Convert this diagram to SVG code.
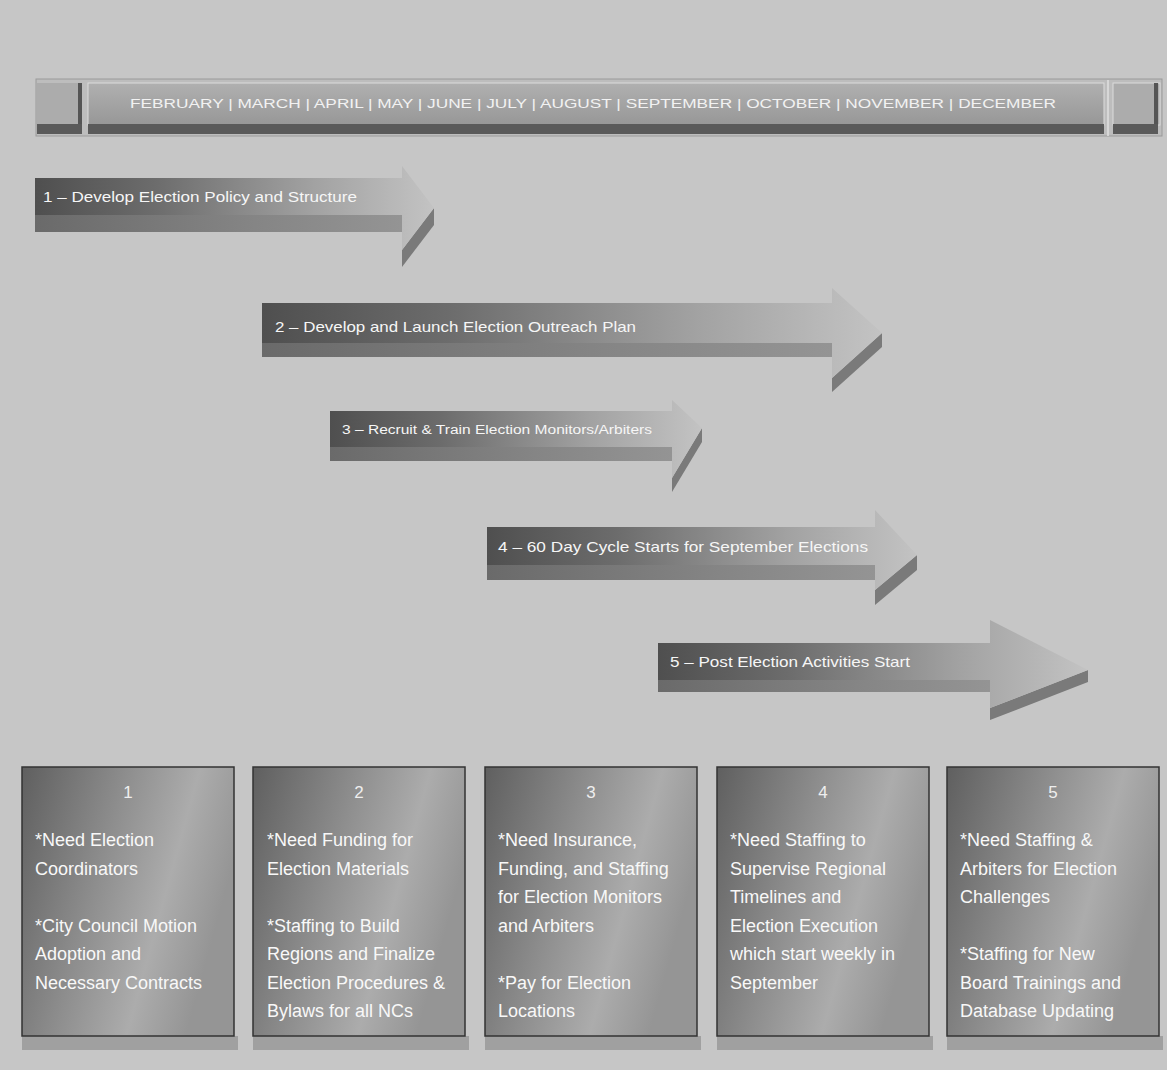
<svg xmlns="http://www.w3.org/2000/svg" width="1167" height="1070" viewBox="0 0 1167 1070">
  <defs>
    <linearGradient id="front" x1="0" y1="0" x2="1" y2="0">
      <stop offset="0" stop-color="#4f4f4f"/>
      <stop offset="0.3" stop-color="#6c6c6c"/>
      <stop offset="0.7" stop-color="#a2a2a2"/>
      <stop offset="1" stop-color="#c3c3c3"/>
    </linearGradient>
    <linearGradient id="side" x1="0" y1="0" x2="1" y2="0">
      <stop offset="0" stop-color="#6a6a6a"/>
      <stop offset="0.6" stop-color="#858585"/>
      <stop offset="1" stop-color="#949494"/>
    </linearGradient>
    <linearGradient id="boxfill" x1="0" y1="0" x2="1" y2="0.35">
      <stop offset="0" stop-color="#5f5f5f"/>
      <stop offset="0.45" stop-color="#8e8e8e"/>
      <stop offset="0.75" stop-color="#acacac"/>
      <stop offset="1" stop-color="#959595"/>
    </linearGradient>
    <linearGradient id="bar" x1="0" y1="0" x2="0" y2="1">
      <stop offset="0" stop-color="#b0b0b0"/>
      <stop offset="1" stop-color="#979797"/>
    </linearGradient>
    <style>
      .bg { fill: #c6c6c6; }
      .front { fill: url(#front); }
      .side { fill: url(#side); }
      .headside { fill: #7a7a7a; }
      .atext { font-family: "Liberation Sans", Arial, sans-serif; font-size: 15px; fill: #f6f6f6; }
      .box { fill: url(#boxfill); stroke: #333333; stroke-width: 1.5; }
      .shadow { fill: #a0a0a0; }
      .btext { font-family: "Liberation Sans", Arial, sans-serif; font-size: 18px; fill: #f8f8f8; }
      .bnum { font-family: "Liberation Sans", Arial, sans-serif; font-size: 17px; fill: #eeeeee; text-anchor: middle; }
      .mtext { font-family: "Liberation Sans", Arial, sans-serif; font-size: 12px; fill: #f2f2f2; }
    </style>
  </defs>

  <rect class="bg" x="0" y="0" width="1167" height="1070"/>

  <g id="header">
    <rect x="36" y="79" width="1126" height="57" fill="#bdbdbd" stroke="#9a9a9a" stroke-width="1"/>
    <rect x="37" y="83" width="44" height="42" fill="#acacac"/>
    <rect x="78" y="83" width="4" height="44" fill="#555555"/>
    <rect x="88" y="83" width="1016" height="42" fill="url(#bar)" stroke="#dcdcdc" stroke-width="1"/>
    <rect x="1113" y="83" width="47" height="42" fill="#acacac" stroke="#dcdcdc" stroke-width="1"/>
    <rect x="1154" y="83" width="4" height="44" fill="#555555"/>
    <rect x="37" y="124" width="45" height="10" fill="#5a5a5a"/>
    <rect x="88" y="124" width="1016" height="10" fill="#5a5a5a"/>
    <rect x="1113" y="124" width="45" height="10" fill="#5a5a5a"/>
    <line x1="1108" y1="80" x2="1108" y2="136" stroke="#e0e0e0" stroke-width="1.5"/>
    <text class="mtext" x="130" y="108" textLength="926" lengthAdjust="spacingAndGlyphs">FEBRUARY   |   MARCH   |   APRIL   |   MAY   |   JUNE   |   JULY   |   AUGUST   |   SEPTEMBER   |   OCTOBER   |   NOVEMBER   |   DECEMBER</text>
  </g>

  <g id="connectors">
    <g id="arrow1">
      <rect class="side" x="35" y="215" width="367" height="17"/>
      <polygon class="headside" points="434,208 402,250 402,267 434,225"/>
      <polygon class="front" points="35,178 402,178 402,166 434,208 402,250 402,215 35,215"/>
      <text class="atext" x="43" y="202" textLength="314" lengthAdjust="spacingAndGlyphs">1 – Develop Election Policy and Structure</text>
    </g>
    <g id="arrow2">
      <rect class="side" x="262" y="343" width="570" height="14"/>
      <polygon class="headside" points="882,333 832,378 832,392 882,347"/>
      <polygon class="front" points="262,303 832,303 832,288 882,333 832,378 832,343 262,343"/>
      <text class="atext" x="275" y="332" textLength="361" lengthAdjust="spacingAndGlyphs">2 – Develop and Launch Election Outreach Plan</text>
    </g>
    <g id="arrow3">
      <rect class="side" x="330" y="447" width="342" height="14"/>
      <polygon class="headside" points="702,428 672,478 672,492 702,442"/>
      <polygon class="front" points="330,411 672,411 672,400 702,428 672,478 672,447 330,447"/>
      <text class="atext" x="342" y="434" style="font-size:12px" textLength="310" lengthAdjust="spacingAndGlyphs">3 – Recruit &amp; Train Election Monitors/Arbiters</text>
    </g>
    <g id="arrow4">
      <rect class="side" x="487" y="565" width="388" height="15"/>
      <polygon class="headside" points="917,555 875,590 875,605 917,570"/>
      <polygon class="front" points="487,527 875,527 875,510 917,555 875,590 875,565 487,565"/>
      <text class="atext" x="498" y="552" textLength="370" lengthAdjust="spacingAndGlyphs">4 – 60 Day Cycle Starts for September Elections</text>
    </g>
    <g id="arrow5">
      <rect class="side" x="658" y="680" width="332" height="12"/>
      <polygon class="headside" points="1088,670 990,708 990,720 1088,682"/>
      <polygon class="front" points="658,643 990,643 990,620 1088,670 990,708 990,680 658,680"/>
      <text class="atext" x="670" y="667" textLength="240" lengthAdjust="spacingAndGlyphs">5 – Post Election Activities Start</text>
    </g>
  </g>

  <g id="box1">
    <rect class="shadow" x="22" y="1036" width="216" height="14"/>
    <rect class="box" x="22" y="767" width="212" height="269"/>
    <text class="bnum" x="128" y="798">1</text>
    <text class="btext" x="35" y="846">*Need Election</text>
    <text class="btext" x="35" y="874.5">Coordinators</text>
    <text class="btext" x="35" y="931.5">*City Council Motion</text>
    <text class="btext" x="35" y="960">Adoption and</text>
    <text class="btext" x="35" y="988.5">Necessary Contracts</text>
  </g>
  <g id="box2">
    <rect class="shadow" x="253" y="1036" width="216" height="14"/>
    <rect class="box" x="253" y="767" width="212" height="269"/>
    <text class="bnum" x="359" y="798">2</text>
    <text class="btext" x="267" y="846">*Need Funding for</text>
    <text class="btext" x="267" y="874.5">Election Materials</text>
    <text class="btext" x="267" y="931.5">*Staffing to Build</text>
    <text class="btext" x="267" y="960">Regions and Finalize</text>
    <text class="btext" x="267" y="988.5">Election Procedures &amp;</text>
    <text class="btext" x="267" y="1017">Bylaws for all NCs</text>
  </g>
  <g id="box3">
    <rect class="shadow" x="485" y="1036" width="216" height="14"/>
    <rect class="box" x="485" y="767" width="212" height="269"/>
    <text class="bnum" x="591" y="798">3</text>
    <text class="btext" x="498" y="846">*Need Insurance,</text>
    <text class="btext" x="498" y="874.5">Funding, and Staffing</text>
    <text class="btext" x="498" y="903">for Election Monitors</text>
    <text class="btext" x="498" y="931.5">and Arbiters</text>
    <text class="btext" x="498" y="988.5">*Pay for Election</text>
    <text class="btext" x="498" y="1017">Locations</text>
  </g>
  <g id="box4">
    <rect class="shadow" x="717" y="1036" width="216" height="14"/>
    <rect class="box" x="717" y="767" width="212" height="269"/>
    <text class="bnum" x="823" y="798">4</text>
    <text class="btext" x="730" y="846">*Need Staffing to</text>
    <text class="btext" x="730" y="874.5">Supervise Regional</text>
    <text class="btext" x="730" y="903">Timelines and</text>
    <text class="btext" x="730" y="931.5">Election Execution</text>
    <text class="btext" x="730" y="960">which start weekly in</text>
    <text class="btext" x="730" y="988.5">September</text>
  </g>
  <g id="box5">
    <rect class="shadow" x="947" y="1036" width="216" height="14"/>
    <rect class="box" x="947" y="767" width="212" height="269"/>
    <text class="bnum" x="1053" y="798">5</text>
    <text class="btext" x="960" y="846">*Need Staffing &amp;</text>
    <text class="btext" x="960" y="874.5">Arbiters for Election</text>
    <text class="btext" x="960" y="903">Challenges</text>
    <text class="btext" x="960" y="960">*Staffing for New</text>
    <text class="btext" x="960" y="988.5">Board Trainings and</text>
    <text class="btext" x="960" y="1017">Database Updating</text>
  </g>
</svg>
